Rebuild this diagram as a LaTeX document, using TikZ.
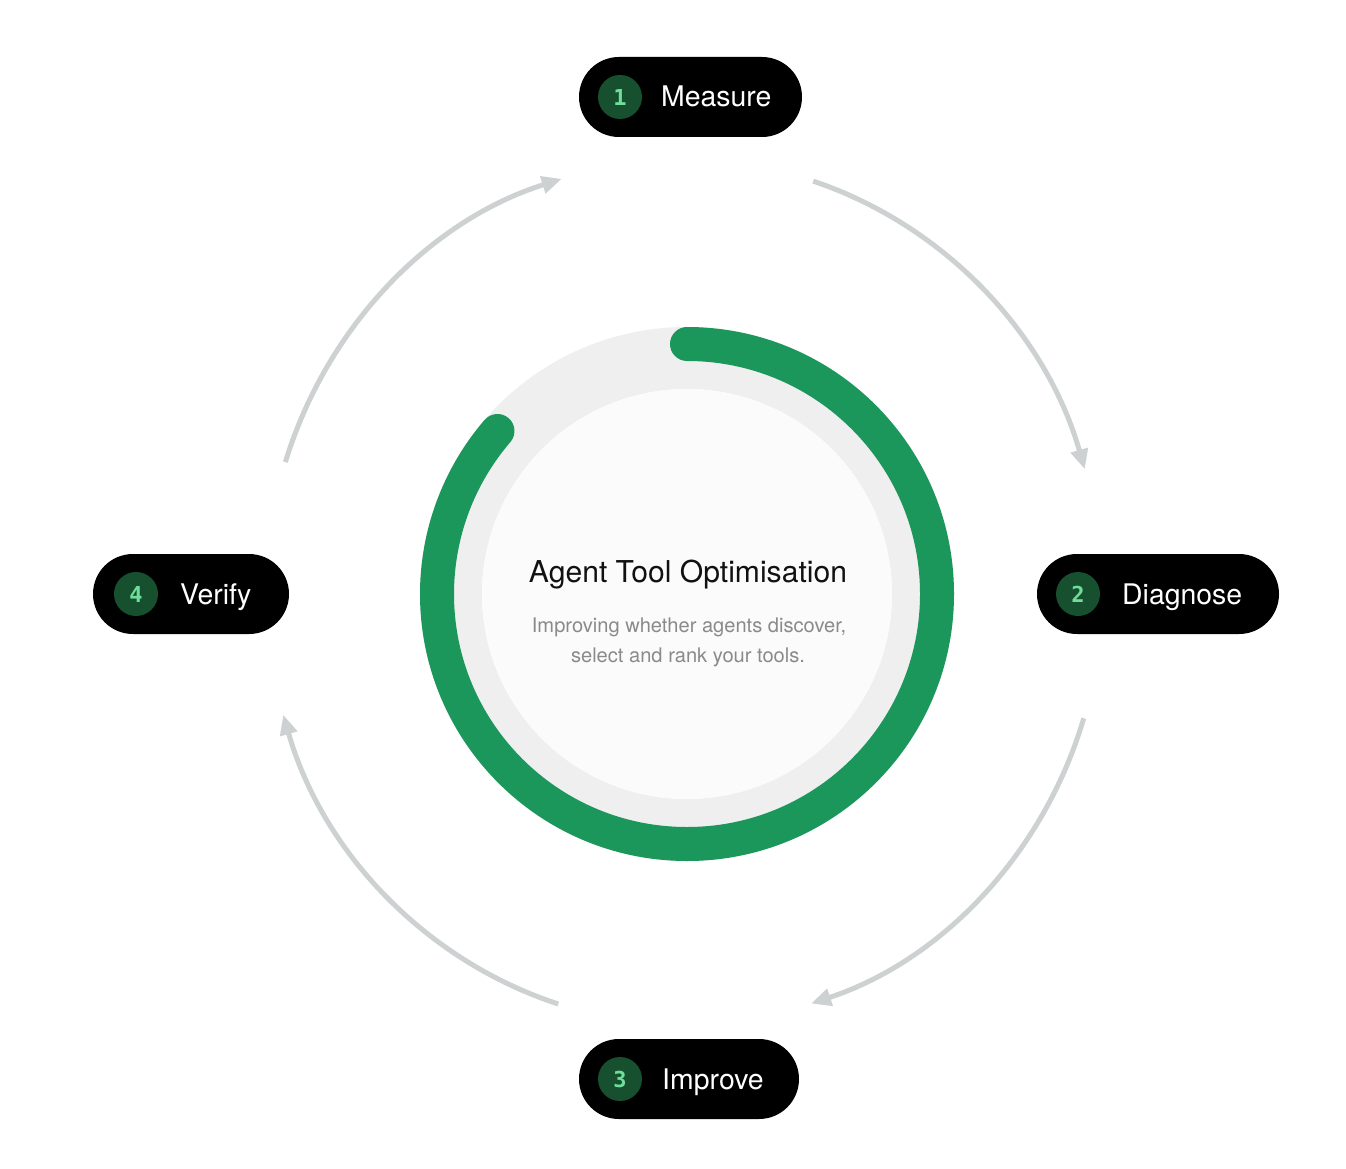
\documentclass[tikz,border=0pt]{standalone}
\usepackage{fontspec}
\setmainfont{TeX Gyre Heros}
\newfontfamily\digitfont{DejaVu Sans Mono}
\usetikzlibrary{arrows.meta,calc}
\definecolor{ringgreen}{HTML}{1B975B}
\definecolor{track}{HTML}{EFEFEF}
\definecolor{disc}{HTML}{FBFBFB}
\definecolor{flowgray}{HTML}{CDD1D2}
\definecolor{numfill}{HTML}{17502F}
\definecolor{numtext}{HTML}{6FDD9B}
\definecolor{subgray}{HTML}{8A8A8A}
\definecolor{titleblack}{HTML}{111111}
\begin{document}
\begin{tikzpicture}[x=1pt,y=-1pt,
  pill/.style={fill=black, rounded corners=40pt, minimum height=80pt, inner sep=0pt},
  numdot/.style={circle, fill=numfill, minimum size=44pt, inner sep=0pt, text=numtext, font=\digitfont\bfseries\fontsize{22}{22}\selectfont},
  pilltext/.style={anchor=base west, text=white, inner sep=0pt, font=\fontsize{28.4}{32}\selectfont},
  flow/.style={draw=flowgray, line width=5pt, -{Triangle[length=20pt,width=17pt]}},
  titletext/.style={anchor=base, inner sep=0pt, text=titleblack, font=\fontsize{30.1}{34}\selectfont},
  subtext/.style={anchor=base, inner sep=0pt, text=subgray, font=\fontsize{20.1}{24}\selectfont}
]
\useasboundingbox (0,0) rectangle (1346,1169);
\fill[white] (0,0) rectangle (1346,1169);
\coordinate (ctr) at (687,594);
% ring
\draw[track, line width=62pt] (ctr) circle[radius=236];
\fill[disc] (ctr) circle[radius=205];
\coordinate (gs) at ($(ctr)+(-90:250)$);
\draw[ringgreen, line width=34pt, line cap=round] (gs) arc[start angle=-90, end angle=220.7, radius=250];
% centre text
\node[titletext] (title) at (688,582) {Agent Tool Optimisation};
\node[subtext] (sub1) at (689,632) {Improving whether agents discover,};
\node[subtext] (sub2) at (688,662) {select and rank your tools.};
% pills
\node[pill, minimum width=223pt] (measure) at (690.5,97) {};
\node[numdot] (n1) at (620,97) {1};
\node[pilltext] (t1) at (661,107) {Measure};
\node[pill, minimum width=242pt] (diagnose) at (1158,594) {};
\node[numdot] (n2) at (1078,594) {2};
\node[pilltext] (t2) at (1122,604) {Diagnose};
\node[pill, minimum width=220pt] (improve) at (689,1079) {};
\node[numdot] (n3) at (620,1079) {3};
\node[pilltext] (t3) at (662,1089) {Improve};
\node[pill, minimum width=196pt] (verify) at (191,594) {};
\node[numdot] (n4) at (136,594) {4};
\node[pilltext] (t4) at (180,604) {Verify};
% flow arcs (ellipse round the centre)
\coordinate (fc) at (684,592);
\coordinate (f1s) at ($(fc)+({418*cos(-72)},{432*sin(-72)})$);
\coordinate (f2s) at ($(fc)+({418*cos(17)},{432*sin(17)})$);
\coordinate (f3s) at ($(fc)+({418*cos(107.5)},{432*sin(107.5)})$);
\coordinate (f4s) at ($(fc)+({418*cos(-162.5)},{432*sin(-162.5)})$);
\draw[flow] (f1s) arc[start angle=-72, end angle=-16.5, x radius=418, y radius=432];
\draw[flow] (f2s) arc[start angle=17, end angle=72.3, x radius=418, y radius=432];
\draw[flow] (f3s) arc[start angle=107.5, end angle=163.5, x radius=418, y radius=432];
\draw[flow] (f4s) arc[start angle=-162.5, end angle=-107, x radius=418, y radius=432];
\end{tikzpicture}
\end{document}
